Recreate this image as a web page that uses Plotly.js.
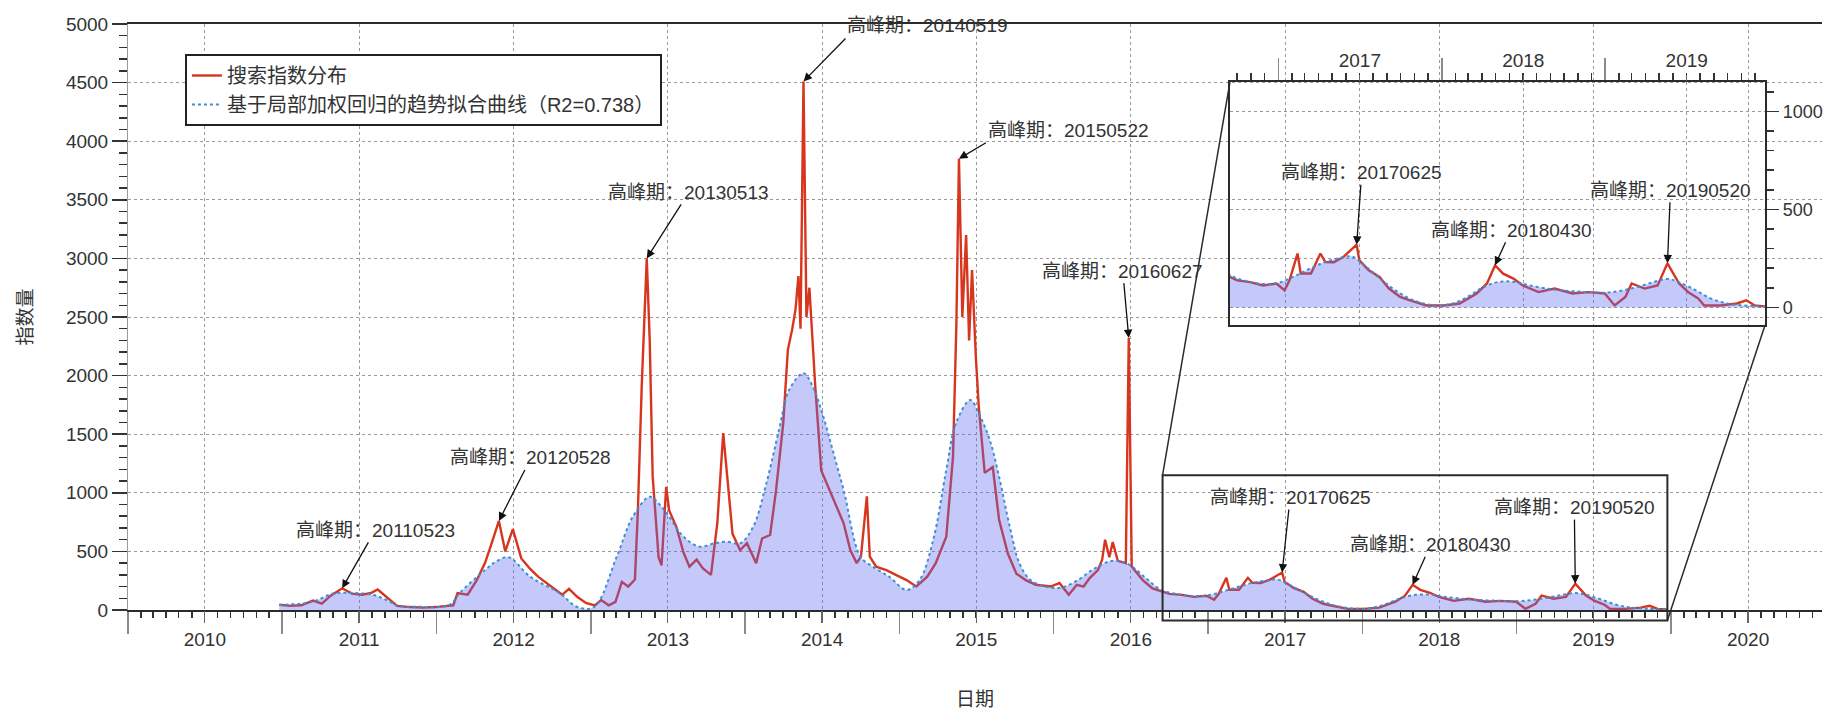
<!DOCTYPE html>
<html><head><meta charset="utf-8">
<script src="https://cdn.plot.ly/plotly-3.0.1.min.js"></script>
<style>html,body{margin:0;padding:0;background:#fff}#chart{width:1825px;height:710px}</style>
</head><body><div id="chart"></div>
<script>
// ---------- data ----------
const searchDates = ['2010-12-25','2011-01-20','2011-02-15','2011-03-15','2011-04-05','2011-04-25','2011-05-23','2011-06-15','2011-07-10','2011-07-30','2011-08-15','2011-09-05','2011-09-30','2011-10-30','2011-11-30','2011-12-30',
'2012-01-20','2012-02-10','2012-02-20','2012-03-15','2012-04-05','2012-04-25','2012-05-10','2012-05-28','2012-06-12','2012-06-30','2012-07-20','2012-08-10','2012-08-30','2012-09-30','2012-10-25','2012-11-10','2012-11-30','2012-12-20',
'2013-01-10','2013-01-25','2013-02-12','2013-02-28','2013-03-15','2013-03-30','2013-04-15','2013-04-22','2013-05-01','2013-05-13','2013-05-20','2013-05-27','2013-06-10','2013-06-17','2013-06-28','2013-07-05','2013-07-22','2013-08-08','2013-08-22','2013-09-08','2013-09-23','2013-10-12','2013-10-27','2013-11-10','2013-11-22','2013-12-02','2013-12-20',
'2014-01-05','2014-01-27','2014-02-10','2014-03-01','2014-03-15','2014-04-01','2014-04-12','2014-04-22','2014-04-30','2014-05-07','2014-05-12','2014-05-19','2014-05-26','2014-06-02','2014-06-09','2014-06-16','2014-06-30','2014-07-20','2014-08-05','2014-08-22','2014-09-07','2014-09-22','2014-10-02','2014-10-16','2014-10-23','2014-11-07','2014-12-01','2014-12-23',
'2015-01-18','2015-02-10','2015-03-08','2015-03-28','2015-04-22','2015-05-08','2015-05-16','2015-05-22','2015-05-30','2015-06-08','2015-06-15','2015-06-22','2015-07-01','2015-07-08','2015-07-22','2015-08-10','2015-08-25','2015-09-15','2015-10-05','2015-10-27','2015-11-20','2015-12-25',
'2016-01-15','2016-02-06','2016-02-25','2016-03-12','2016-03-26','2016-04-15','2016-04-25','2016-05-02','2016-05-12','2016-05-20','2016-06-01','2016-06-20','2016-06-27','2016-07-04','2016-07-30','2016-08-22','2016-09-20','2016-10-01','2016-10-30','2016-11-28','2016-12-28',
'2017-01-15','2017-01-26','2017-02-13','2017-02-20','2017-03-15','2017-04-05','2017-04-16','2017-05-05','2017-05-26','2017-06-25','2017-07-01','2017-07-22','2017-08-15','2017-09-05','2017-09-30','2017-10-22','2017-11-28',
'2018-01-05','2018-02-10','2018-03-20','2018-04-12','2018-04-30','2018-05-18','2018-06-10','2018-07-01','2018-08-05','2018-09-10','2018-10-20','2018-11-25','2018-12-31',
'2019-01-22','2019-02-15','2019-03-01','2019-03-30','2019-04-28','2019-05-20','2019-06-15','2019-07-05','2019-07-28','2019-08-10','2019-09-15','2019-10-22','2019-11-12','2019-12-01','2019-12-25'];
const searchValues = [45,35,40,80,55,120,185,140,130,145,175,110,35,25,20,25,
30,40,145,130,250,400,560,760,500,690,440,350,280,200,130,180,110,60,
40,85,40,70,240,200,260,850,1900,3000,2300,1140,450,380,1050,850,710,490,370,430,355,300,740,1510,1020,650,510,
570,400,610,640,1020,1590,2220,2390,2560,2850,2400,4510,2500,2750,2300,1900,1190,1020,880,740,510,400,455,970,455,370,340,300,
255,200,285,400,625,1310,2450,3850,2500,3200,2300,2900,2160,1730,1170,1220,770,480,310,255,215,200,
230,130,215,200,270,340,430,600,450,580,420,400,2320,370,255,185,150,138,129,112,122,
87,138,275,173,173,275,231,230,257,320,240,189,155,96,53,36,10,
10,20,71,122,215,172,147,112,78,96,71,78,71,
10,53,122,96,112,225,122,78,45,10,10,20,36,10,5];

const trendDates = ['2010-12-25','2011-03-15','2011-05-01','2011-06-20','2011-08-05','2011-09-05','2011-10-05','2011-11-15',
'2012-02-01','2012-02-25','2012-04-25','2012-05-20','2012-06-20','2012-08-10','2012-10-20','2012-11-28',
'2013-01-08','2013-03-03','2013-04-10','2013-05-20','2013-06-10','2013-07-05','2013-08-08','2013-09-15','2013-10-20','2013-11-17','2013-12-20',
'2014-01-20','2014-02-20','2014-03-22','2014-04-15','2014-05-19','2014-06-10','2014-07-05','2014-07-27','2014-08-22','2014-10-01','2014-10-30','2014-12-08',
'2015-01-18','2015-02-18','2015-03-22','2015-04-22','2015-05-15','2015-06-18','2015-07-08','2015-08-03','2015-08-25','2015-09-20','2015-10-12','2015-11-06','2015-12-12',
'2016-01-18','2016-02-25','2016-04-01','2016-05-08','2016-06-02','2016-07-01','2016-08-07','2016-09-12','2016-10-20','2016-11-25',
'2017-01-01','2017-02-07','2017-03-15','2017-04-20','2017-05-26','2017-06-14','2017-07-20','2017-08-25','2017-10-01','2017-11-06','2017-12-12',
'2018-01-18','2018-02-25','2018-04-01','2018-05-08','2018-06-13','2018-07-20','2018-09-13','2018-11-07',
'2019-01-01','2019-02-06','2019-03-15','2019-04-20','2019-05-20','2019-06-13','2019-07-20','2019-08-25','2019-10-01','2019-11-06','2019-12-25'];
const trendValues = [43,71,140,145,128,85,34,28,
43,145,340,410,450,284,142,28,
25,455,796,967,910,796,626,540,569,583,569,
711,1080,1535,1877,2020,1905,1650,1365,1024,455,370,284,
171,256,597,1194,1593,1792,1678,1450,1137,700,400,260,200,
190,250,340,410,420,380,270,170,135,120,
125,160,200,235,255,260,200,130,70,30,12,
15,50,100,130,130,110,90,80,
75,85,105,130,145,130,90,45,20,10,5];

const legendNames = ['搜索指数分布', '基于局部加权回归的趋势拟合曲线（R2=0.738）'];
const peakPrefix = '高峰期：';
const yearLabels = ['2010','2011','2012','2013','2014','2015','2016','2017','2018','2019','2020'];
const insetYearLabels = ['2017','2018','2019'];
const insetYTicks = [0, 500, 1000];
const mainPeakDates = ['2011-05-23','2012-05-28','2013-05-13','2014-05-19','2015-05-22','2016-06-27','2017-06-25','2018-04-30','2019-05-20'];
const mainPeakValues = [185,760,3000,4510,3850,2320,320,215,225];
const insetPeakDates = ['2017-06-25','2018-04-30','2019-05-20'];
const insetPeakValues = [320,215,225];
const yTitle = '指数量';
const xTitle = '日期';

// ---------- layout config ----------
const mainRange = ['2010-01-01','2020-12-24'];
const mainYRange = [0, 5000];
const insetRange = ['2016-09-15','2019-12-24'];
const insetYRange = [-90, 1150];
const insetDomX = [0.6505, 0.9664];
const insetDomY = [0.4863, 0.9010];
const mainOffsets = [[33,-58,'center','middle'],[32,-63,'center','middle'],[42,-66,'center','middle'],[42,-43,'left','bottom'],[27,-16,'left','bottom'],[-6,-67,'center','middle'],[8,-75,'center','middle'],[18,-40,'center','middle'],[-1,-76,'center','middle']];
const insetOffsets = [[5,-72],[16,-35],[3,-73]];

const FONT = 'Liberation Sans, Arial, Noto Sans CJK SC, sans-serif';
const RED = '#d8351f';
const TREND = '#3b8fd2';
const FILL = 'rgba(95,105,240,0.36)';
const GRID = '#9a9a9a';
const FRAME = '#2b2b2b';

const midYear = y => y + '-07-02';
const compact = d => d.replace(/-/g, '');

function layers(xa, xaTop, ya, show) {
  return [
    {x: searchDates, y: searchValues, type: 'scatter', mode: 'lines', name: legendNames[0],
     line: {color: RED, width: 2.4}, xaxis: xa, yaxis: ya, showlegend: show, hoverinfo: 'skip'},
    {x: trendDates, y: trendValues, type: 'scatter', mode: 'lines', line: {width: 0, color: 'rgba(0,0,0,0)', shape: 'spline'},
     fill: 'tozeroy', fillcolor: FILL, xaxis: xa, yaxis: ya, showlegend: false, hoverinfo: 'skip'},
    {x: trendDates, y: trendValues, type: 'scatter', mode: 'lines', name: legendNames[1],
     line: {color: TREND, width: 2, dash: 'dot', shape: 'spline'}, xaxis: xaTop, yaxis: ya, showlegend: show, hoverinfo: 'skip'}
  ];
}

const data = [...layers('x', 'x3', 'y', true), ...layers('x2', 'x4', 'y2', false)];

const arrowStyle = {showarrow: true, arrowhead: 2, arrowsize: 1.3, arrowwidth: 1.3, arrowcolor: '#111',
  font: {family: FONT, size: 19, color: '#333'}};

const annotations = [
  ...mainPeakDates.map((d, i) => Object.assign({}, arrowStyle, {
    xref: 'x', yref: 'y', x: d, y: mainPeakValues[i], text: peakPrefix + compact(d),
    ax: mainOffsets[i][0], ay: mainOffsets[i][1], xanchor: mainOffsets[i][2], yanchor: mainOffsets[i][3]})),
  ...insetPeakDates.map((d, i) => Object.assign({}, arrowStyle, {
    xref: 'x2', yref: 'y2', x: d, y: insetPeakValues[i], text: peakPrefix + compact(d),
    ax: insetOffsets[i][0], ay: insetOffsets[i][1]}))
];

const t0 = Date.parse(mainRange[0]), t1 = Date.parse(mainRange[1]);
const xFrac = d => (Date.parse(d) - t0) / (t1 - t0);
const yFrac = v => (v - mainYRange[0]) / (mainYRange[1] - mainYRange[0]);

const shapes = [
  {type: 'rect', xref: 'x', yref: 'paper', x0: insetRange[0], x1: insetRange[1],
   y0: yFrac(insetYRange[0]), y1: yFrac(insetYRange[1]), line: {color: FRAME, width: 2}},
  {type: 'line', xref: 'paper', yref: 'paper', x0: xFrac(insetRange[0]), y0: yFrac(insetYRange[1]),
   x1: insetDomX[0], y1: insetDomY[1], line: {color: FRAME, width: 1.5}},
  {type: 'line', xref: 'paper', yref: 'paper', x0: xFrac(insetRange[1]), y0: yFrac(insetYRange[0]),
   x1: insetDomX[1], y1: insetDomY[0], line: {color: FRAME, width: 1.5}}
];

const layout = {
  width: 1825, height: 710,
  margin: {l: 128, r: 3, t: 24, b: 100},
  paper_bgcolor: '#ffffff', plot_bgcolor: 'rgba(0,0,0,0)',
  font: {family: FONT, size: 19, color: '#333'},
  showlegend: true,
  legend: {x: 0.0336, y: 0.9488, xanchor: 'left', yanchor: 'top', bgcolor: '#ffffff',
    bordercolor: '#222', borderwidth: 2, font: {family: FONT, size: 20, color: '#333'}, tracegroupgap: 0},
  xaxis: {type: 'date', range: mainRange, domain: [0, 1], anchor: 'y',
    tickmode: 'linear', tick0: '2010-01-01', dtick: 'M12', ticks: 'outside', ticklen: 22, tickwidth: 1.5, tickcolor: '#8a8a8a',
    showticklabels: false, showgrid: false, zeroline: false,
    showline: true, linecolor: FRAME, linewidth: 2, mirror: true,
    minor: {tickmode: 'linear', tick0: '2010-01-01', dtick: 'M1', ticks: 'outside', ticklen: 6, tickwidth: 1.5, tickcolor: '#333', showgrid: false}},
  xaxis3: {type: 'date', range: mainRange, overlaying: 'x', anchor: 'y',
    tickmode: 'array', tickvals: yearLabels.map(midYear), ticktext: yearLabels,
    ticks: 'outside', ticklen: 12, tickwidth: 1.2, tickcolor: '#666',
    showgrid: true, gridcolor: GRID, griddash: 'dot', gridwidth: 1, showline: false, zeroline: false,
    tickfont: {family: FONT, size: 19, color: '#333'},
    title: {text: xTitle, standoff: 45, font: {family: FONT, size: 19, color: '#333'}}},
  yaxis: {range: mainYRange, domain: [0, 1], anchor: 'x', tickmode: 'linear', tick0: 0, dtick: 500,
    ticks: 'outside', ticklen: 15, tickwidth: 1.5, tickcolor: '#333',
    showgrid: true, gridcolor: GRID, griddash: 'dot', gridwidth: 1, zeroline: false,
    showline: true, linecolor: '#9a9a9a', linewidth: 1,
    tickfont: {family: FONT, size: 19, color: '#333'},
    minor: {tickmode: 'linear', tick0: 0, dtick: 100, ticks: 'outside', ticklen: 8, tickwidth: 1.5, tickcolor: '#333', showgrid: false},
    title: {text: yTitle, standoff: 28, font: {family: FONT, size: 19, color: '#333'}}},
  xaxis2: {type: 'date', range: insetRange, domain: insetDomX, anchor: 'y2', side: 'top',
    tickmode: 'linear', tick0: '2010-01-01', dtick: 'M12', ticks: 'outside', ticklen: 22, tickwidth: 1.5, tickcolor: '#8a8a8a',
    showticklabels: false, showgrid: false, zeroline: false,
    showline: true, mirror: true, linecolor: FRAME, linewidth: 2,
    minor: {tickmode: 'linear', tick0: '2010-01-01', dtick: 'M1', ticks: 'outside', ticklen: 7, tickwidth: 1.5, tickcolor: '#333', showgrid: false}},
  xaxis4: {type: 'date', range: insetRange, overlaying: 'x2', anchor: 'y2', side: 'top',
    tickmode: 'array', tickvals: insetYearLabels.map(midYear), ticktext: insetYearLabels,
    ticks: 'outside', ticklen: 6, tickwidth: 1.2, tickcolor: '#666',
    showgrid: true, gridcolor: GRID, griddash: 'dot', gridwidth: 1, showline: false, zeroline: false,
    tickfont: {family: FONT, size: 19, color: '#333'}},
  yaxis2: {range: insetYRange, domain: insetDomY, anchor: 'x2', side: 'right',
    tickmode: 'array', tickvals: insetYTicks, ticks: 'outside', ticklen: 12, tickwidth: 1.5, tickcolor: '#333',
    showgrid: true, gridcolor: GRID, griddash: 'dot', gridwidth: 1, zeroline: false,
    showline: true, mirror: true, linecolor: FRAME, linewidth: 2,
    tickfont: {family: FONT, size: 18, color: '#333'},
    minor: {tickmode: 'linear', tick0: 0, dtick: 100, ticks: 'outside', ticklen: 7, tickwidth: 1.5, tickcolor: '#333', showgrid: false}},
  annotations: annotations,
  shapes: shapes
};

Plotly.newPlot('chart', data, layout, {displayModeBar: false, staticPlot: true});
</script>
</body></html>
